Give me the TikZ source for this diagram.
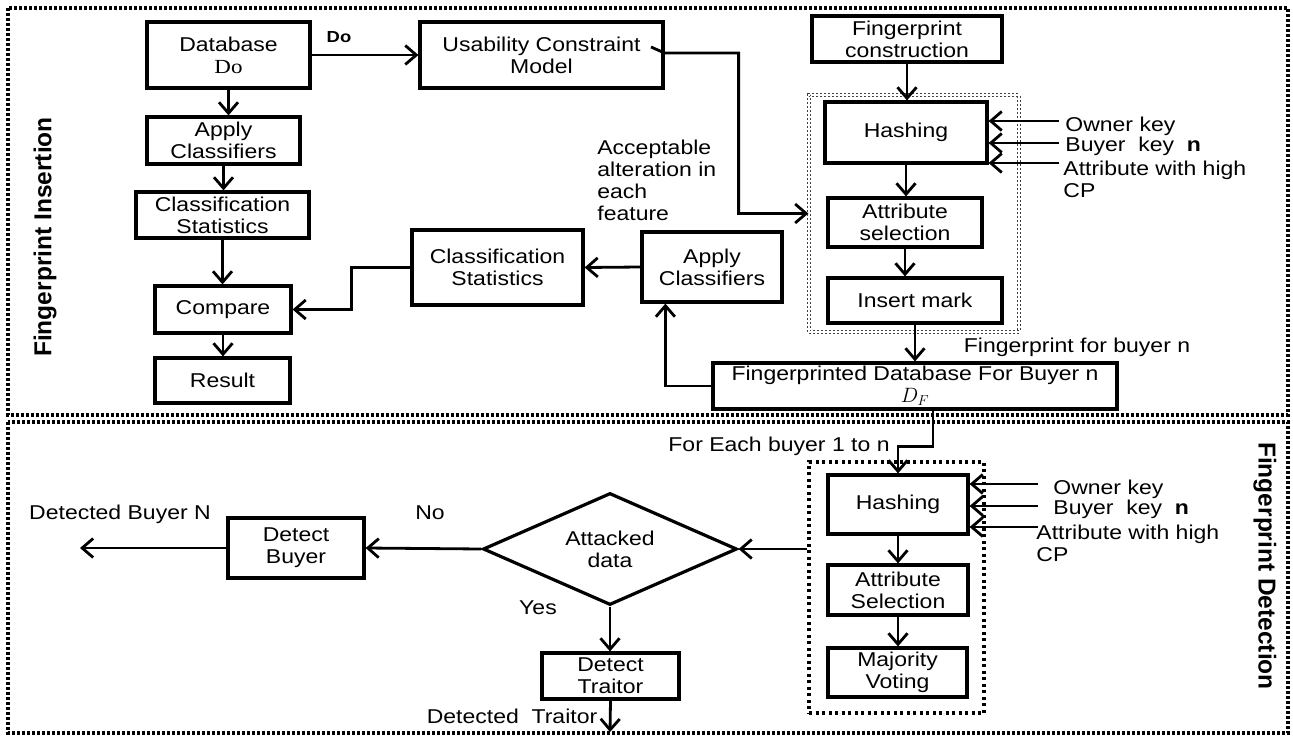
\documentclass[tikz,border=0pt]{standalone}
\usepackage{fontspec}
\setmainfont[FakeStretch=1.15]{Liberation Sans}
\newfontfamily\serf[FakeStretch=1.15]{Liberation Serif}
\newfontfamily\sidef{Liberation Sans}
\usetikzlibrary{arrows.meta,shapes.geometric}

\begin{document}
\begin{tikzpicture}[x=1pt,y=-1pt,line width=2.8pt,font=\fontsize{20}{22}\selectfont,
  >={Straight Barb[length=11pt,width=19pt]}]

\tikzstyle{bx} = [rectangle, draw=black, line width=3.2pt, align=center, inner sep=0pt]
\tikzstyle{dm} = [diamond, draw=black, line width=3.2pt, align=center, inner sep=0pt]
\tikzstyle{lb} = [inner sep=0pt, align=left]
\tikzstyle{bord} = [line width=3.5pt, dash pattern=on 3pt off 2pt]
\tikzstyle{gi} = [draw=black!75, line width=1.4pt, double, double distance=1.6pt, dash pattern=on 2pt off 2pt]
\tikzstyle{gd} = [draw=black, line width=3.4pt, dash pattern=on 3pt off 3.5pt]
\tikzstyle{side} = [inner sep=0pt, font=\sidef\bfseries\fontsize{24.5}{26}\selectfont]

\useasboundingbox (0,0) rectangle (1293,736);
\draw[bord] (8,8) rectangle (1288,415);
\draw[bord] (8,422) rectangle (1288,733);

% insertion part
\node (fpi) [side, rotate=90] at (45,237) {Fingerprint Insertion};
\node (db) [bx, minimum width=163pt, minimum height=66pt] at (228.5,55) {Database\\{\serf Do}};
\node (ucm) [bx, minimum width=243pt, minimum height=66pt] at (541.5,55) {Usability Constraint\\Model};
\node (fpc) [bx, minimum width=190pt, minimum height=46pt] at (907,39) {Fingerprint\\construction};
\node (apl) [bx, minimum width=153pt, minimum height=47pt] at (223.5,140.5) {Apply\\Classifiers};
\node (csl) [bx, minimum width=173pt, minimum height=46pt] at (222.5,215) {Classification\\Statistics};
\node (cmp) [bx, minimum width=136pt, minimum height=47pt] at (223,309.5) {Compare};
\node (res) [bx, minimum width=135pt, minimum height=45pt] at (222.5,380.5) {Result};
\node (csm) [bx, minimum width=171pt, minimum height=75pt] at (497.5,267.5) {Classification\\Statistics};
\node (apm) [bx, minimum width=140pt, minimum height=70pt] at (712,267) {Apply\\Classifiers};
\node (ing) [gi, minimum width=210pt, minimum height=237pt] at (914,213.5) {};
\node (hsh) [bx, minimum width=162pt, minimum height=61pt] at (906,132.5) {Hashing};
\node (ats) [bx, minimum width=154pt, minimum height=49pt] at (905,222.5) {Attribute\\selection};
\node (ins) [bx, minimum width=174pt, minimum height=45pt] at (915,300.5) {Insert mark};
\node (fdb) [bx, minimum width=404pt, minimum height=46pt] at (915,386) {Fingerprinted Database For Buyer n\\$D_F$};

\node (dol) [lb, font=\bfseries\fontsize{16}{18}\selectfont] at (339,37) {Do};
\node (acc) [lb, anchor=north west] at (596,139) {Acceptable\\alteration in\\each\\feature};
\node (ok1) [lb, anchor=west] at (1064,126) {Owner key};
\node (bk1) [lb, anchor=west] at (1064,146) {Buyer\ \ key\ \ \textbf{n}};
\node (ah1) [lb, anchor=west] at (1062,179) {Attribute with high\\CP};
\node (ffb) [lb] at (1077,347) {Fingerprint for buyer n};
\coordinate (k1) at (1059,121);
\coordinate (k2) at (1059,143);
\coordinate (k3) at (1059,163);
\coordinate (tk) at (651,47);

\draw[->] (db.east) -- (ucm.west);
\draw[->] (db.south) -- (db.south |- apl.north);
\draw[->] (apl.south) -- (apl.south |- csl.north);
\draw[->] (csl.south) -- (csl.south |- cmp.north);
\draw[->] (cmp.south) -- (cmp.south |- res.north);
\draw[->] (tk) -- ([yshift=2pt]ucm.east) -- ++(74,0) |- (ing.west);
\draw[->] (fpc.south) -- (fpc.south |- hsh.north);
\draw[->] (k1) -- (hsh.east |- k1);
\draw[->] (k2) -- (hsh.east |- k2);
\draw[->] (k3) -- (hsh.east |- k3);
\draw[->] (hsh.south) -- (hsh.south |- ats.north);
\draw[->] (ats.south) -- (ats.south |- ins.north);
\draw[->] (ins.south) -- (fdb.north);
\draw[->] (fdb.west) -| ([xshift=25pt]apm.south west);
\draw[->] (apm.west) -- (csm.east);
\draw[->] (csm.west) -- ++(-59,0) |- (cmp.east);

% detection part
\node (fpd) [side, rotate=-90] at (1265,566) {Fingerprint Detection};
\node (gpd) [gd, minimum width=175pt, minimum height=251pt] at (896.5,587.5) {};
\node (hsh2) [bx, minimum width=140pt, minimum height=59pt] at (898,504.5) {Hashing};
\node (ats2) [bx, minimum width=140pt, minimum height=50pt] at (898,590) {Attribute\\Selection};
\node (mjv) [bx, minimum width=139pt, minimum height=49pt] at (897.5,672.5) {Majority\\Voting};
\node (dia) [dm, aspect=2.3, minimum width=254pt, minimum height=112pt] at (610,549) {Attacked\\data};
\node (dbu) [bx, minimum width=136pt, minimum height=60pt] at (296,548) {Detect\\Buyer};
\node (dtr) [bx, minimum width=137pt, minimum height=46pt] at (610.5,676) {Detect\\Traitor};

\node (feb) [lb] at (779,446) {For Each buyer 1 to n};
\node (dbn) [lb] at (120,514) {Detected Buyer N};
\node (no) [lb] at (430,513) {No};
\node (yes) [lb] at (538,608) {Yes};
\node (dtl) [lb] at (512,716) {Detected\ \ Traitor};
\node (ok2) [lb, anchor=west] at (1052,489) {Owner key};
\node (bk2) [lb, anchor=west] at (1052,509) {Buyer\ \ key\ \ \textbf{n}};
\node (ah2) [lb, anchor=west] at (1035,543) {Attribute with high\\CP};
\coordinate (m1) at (1038,484);
\coordinate (m2) at (1038,506);
\coordinate (m3) at (1038,527);
\coordinate (o1) at (80,548);
\coordinate (o2) at (610,732);

\draw[->] ([xshift=18pt]fdb.south) -- ++(0,36) -| (hsh2.north);
\draw[->] (m1) -- (hsh2.east |- m1);
\draw[->] (m2) -- (hsh2.east |- m2);
\draw[->] (m3) -- (hsh2.east |- m3);
\draw[->] (hsh2.south) -- (hsh2.south |- ats2.north);
\draw[->] (ats2.south) -- (ats2.south |- mjv.north);
\draw[->] (gpd.west |- dia.east) -- (dia.east);
\draw[->] (dia.west) -- (dbu.east);
\draw[->] (dbu.west) -- (o1);
\draw[->] (dia.south) -- (dia.south |- dtr.north);
\draw[->] (dtr.south) -- (o2);
\end{tikzpicture}
\end{document}
